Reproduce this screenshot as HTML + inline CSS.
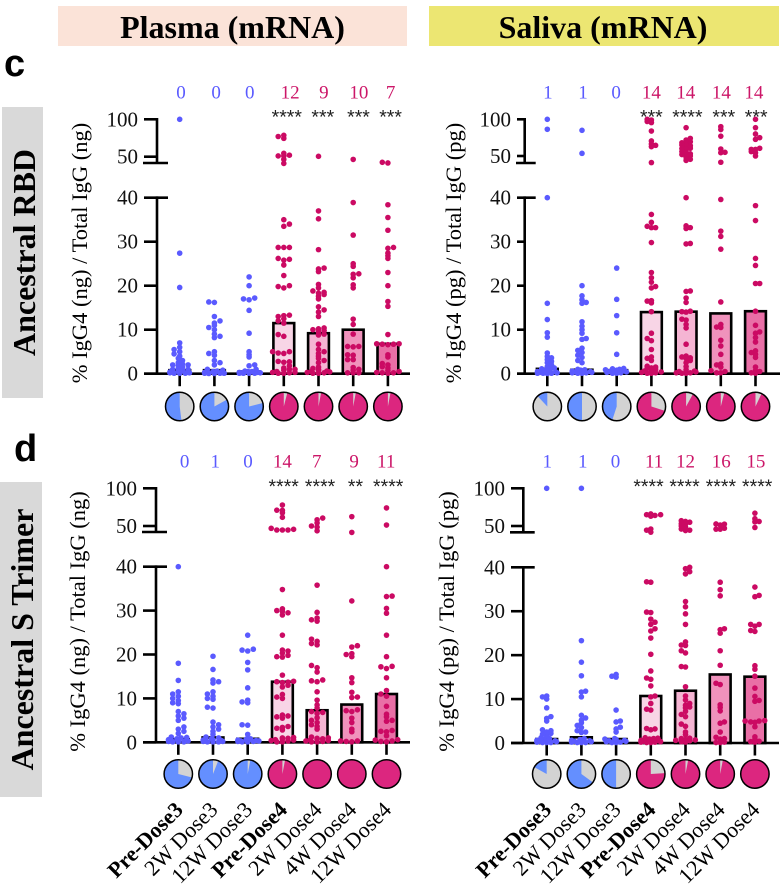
<!DOCTYPE html>
<html lang="en">
<head>
<meta charset="utf-8">
<title>IgG4 proportion chart</title>
<style>
html,body{margin:0;padding:0;background:#fff;width:783px;height:890px;overflow:hidden}
svg{display:block;font-family:"Liberation Serif",serif}
</style>
</head>
<body>
<svg id="chart" width="783" height="890" viewBox="0 0 783 890" xmlns="http://www.w3.org/2000/svg">
  <rect x="58" y="6" width="349" height="40" fill="#fbe3d8"/>
  <text x="232.500" y="38" font-size="32" font-weight="bold" text-anchor="middle">Plasma (mRNA)</text>
  <rect x="429" y="6" width="350" height="40" fill="#ece672"/>
  <text x="603" y="38" font-size="32" font-weight="bold" text-anchor="middle">Saliva (mRNA)</text>
  <text x="4" y="76" font-size="38" font-weight="bold" style="font-family:'Liberation Sans',sans-serif">c</text>
  <text x="14" y="461" font-size="38" font-weight="bold" style="font-family:'Liberation Sans',sans-serif">d</text>
  <rect x="2" y="107" width="41" height="291" fill="#d9d9d9"/>
  <text transform="translate(35 252.500) rotate(-90)" font-size="32" font-weight="bold" text-anchor="middle">Ancestral RBD</text>
  <rect x="0" y="482" width="42" height="315" fill="#d9d9d9"/>
  <text transform="translate(33 639.500) rotate(-90)" font-size="32" font-weight="bold" text-anchor="middle">Ancestral S Trimer</text>
</svg>
<script>
// ---------- shared labels ----------
const categories = ["Pre-Dose3","2W Dose3","12W Dose3","Pre-Dose4","2W Dose4","4W Dose4","12W Dose4"];
const boldCategories = ["Pre-Dose3","Pre-Dose4"];
const lowerTicks = [0,10,20,30,40];
const upperTicks = [50,100];

// ---------- Plasma / RBD ----------
const plasmaRbdCounts = [0,0,0,12,9,10,7];
const plasmaRbdStars = ["","","","****","***","***","***"];
const plasmaRbdMeans = [0.8,0.8,0.5,11.5,9.2,10,6.8];
const plasmaRbdPies = [52,83,79,96,97,97,97];
const plasmaRbdPoints = [
 [100,27.4,19.6,7,6,5.5,5,4.5,4,3.5,3,2.5,2.2,2,2,1.8,1.5,1.2,1,1,0.8,0.6,0.5,0.4,0.3,0.3,0.2,0.2,0.1,0.1,0.1],
 [16.3,16.2,13,12,11.5,11,10.5,10,9,8.5,8.2,5,4.6,4.2,3,2.5,2,1,0.8,0.6,0.5,0.4,0.3,0.2,0.2,0.1,0.1,0.1,0.05,0.05],
 [22,20,17.2,17,16.8,14.4,9.2,5,4.3,3.8,2,1.8,1,0.6,0.5,0.5,0.4,0.3,0.3,0.2,0.2,0.1,0.1,0.1,0.1],
 [78.6,77,74.5,54.5,52,51,51,46.4,41,35,34,33.5,28.7,28.7,28.7,26.2,26,25.8,24.7,22.3,20,19.8,19.5,13.3,13.2,13,12.5,12,11.5,8.9,8.5,5,5,4.7,4.6,2.8,2.7,2.6,1.8,1.3,1,1,0.8,0.5,0.3,0.3,0.2,0.1,0.1],
 [50.5,37,35.2,28.2,24,23.8,23.2,20.3,19.5,18.8,18.5,18.3,18,17.6,17,15.2,14.5,14,13,10.4,10.2,10,9.8,9.5,9,8.8,6.7,5.5,5,4.6,4,3.5,3,2.5,1.5,1.2,1,0.8,0.6,0.5,0.4,0.3,0.2,0.1,0.1],
 [46.4,38.9,31.5,25,24.4,22.7,22.6,21.8,20.2,19.5,12.4,11.2,9,6.2,6.2,6.1,4.3,4.2,3.2,3.2,1.4,1,0.8,0.2,0.2,0.2],
 [42.5,41.6,38.4,35.5,32.6,28.7,28.5,27.4,26.8,26.2,23,20,16.4,15.3,8.9,6.8,6.8,6.7,6.7,6.6,4.3,3.8,2.3,2,1.6,1.3,0.7,0.5,0.3,0.2,0.2,0.1]
];

// ---------- Saliva / RBD ----------
const salivaRbdCounts = [1,1,0,14,14,14,14];
const salivaRbdStars = ["","","","***","****","***","***"];
const salivaRbdMeans = [1.1,0.9,0.8,14,14.1,13.7,14.2];
const salivaRbdPies = [12,50,45,70,92,96,93];
const salivaRbdPoints = [
 [100,86.4,40,16,12.3,9.3,8.3,4.7,3.9,3.6,3.2,2.8,2.5,2,1.6,1.3,1.1,0.9,0.8,0.6,0.5,0.4,0.3,0.2,0.1,0.1,0.1,0.05],
 [85,53.6,20,17.7,16.8,16.2,16,11.8,10.8,10,9.2,8,7.8,5.8,5.3,4.8,4.2,3.7,3,2.5,1,0.9,0.8,0.7,0.6,0.5,0.4,0.3,0.2,0.2,0.1,0.1],
 [24,16.9,13.2,9.3,4.4,1.2,1.1,1,0.9,0.8,0.7,0.6,0.5,0.4,0.3,0.2,0.1,0.1],
 [100,99,97,95.5,84,70.5,66.4,64.5,62.7,41,36.2,34.4,33.5,33.2,33.2,29.8,23,21.8,20.8,19.8,19.5,16.6,16.5,16.1,14.1,9.2,8,7.5,5.5,3.8,3.5,3,1.7,1.5,1.3,1.2,1,0.8,0.6,0.4,0.3,0.2,0.1,0.1],
 [88.6,74,71.8,69.5,68,67,65,64,62.7,60.5,60,58,56,55,53,52,51.5,50,48,45.5,44,40,33.6,33.2,33,29.6,29.5,18.8,18.7,17.2,16.2,14.2,14.1,14,12.4,12.2,11.2,10.4,6.7,4,3.8,3.6,3.5,3,2.5,1.6,0.9,0.6,0.5,0.4,0.2,0.2,0.1,0.1],
 [90,86,77,59.5,55,54.5,41.5,39.6,32.4,31.2,28.3,16.3,11.2,10.6,10.5,7.6,6.3,4.4,2.2,2,1.5,0.7,0.5,0.2,0.2],
 [100,88.6,80,75,72.7,60.5,59,59,56,54.5,50,38.2,34.8,26.2,24.6,20.5,20.5,14.2,11,9.5,9.2,8.2,7.2,5.2,4.8,4.4,3.7,1.5,0.7,0.5,0.2,0.1]
];

// ---------- Plasma / S Trimer ----------
const plasmaTrimerCounts = [0,1,0,14,7,9,11];
const plasmaTrimerStars = ["","","","****","****","**","****"];
const plasmaTrimerMeans = [0.7,1.1,0.8,13.8,7.3,8.6,11];
const plasmaTrimerPies = [71,94,97,97,100,100,100];
const plasmaTrimerPoints = [
 [40,18,14.1,11.5,11,10.5,10,9.5,9,8.8,7,6.5,6,5.5,5,3.5,3,2.5,2,1.2,1.1,1,0.8,0.7,0.6,0.5,0.4,0.3,0.2,0.1,0.1,0.1],
 [19.6,16.6,14.2,13.8,13.5,11.5,11,10.5,10,9.8,8,7.8,4.6,4,3.5,3,2.5,1.8,1.2,1,0.8,0.6,0.5,0.4,0.3,0.2,0.2,0.1,0.1,0.1],
 [24.4,21.2,21,20.8,18.2,16.5,12.4,9.6,9.2,9,4,3.9,1.8,0.8,0.7,0.6,0.5,0.4,0.3,0.3,0.2,0.2,0.1,0.1],
 [77.8,71,70.7,67.6,61.5,46.9,45.6,44.7,44.7,44.7,34.8,30.4,30,29.8,29.5,29,24.4,21,20.8,20.3,19.8,19.5,19.4,15.3,13.9,13.8,13.7,13.6,13,12.6,10.9,10.3,10,6.2,6,5.8,5.5,3.6,3.4,3.2,2.8,1.1,1,0.9,0.8,0.6,0.5,0.4,0.3,0.1,0.1],
 [60.5,58.3,54,50,48.5,43.6,35.8,29.6,28.3,27.9,27.6,23.5,23,22.5,22.2,17.5,17,16,14.2,14,13.8,11.5,9.6,8.5,7.8,7,6.8,6.6,5.6,5,4.5,4,3.6,3,1.2,1,0.9,0.8,0.7,0.5,0.4,0.3,0.2,0.1,0.1],
 [62.4,41.5,32.2,22,21.7,20.2,20,19.5,14.7,13.6,11.4,10.3,10.2,7.4,7.2,7,5.5,4.5,3,2.4,0.3,0.3,0.2,0.1],
 [74,51.3,40,33.3,33.2,30.5,29.4,24.4,19.5,17.3,17.2,16.8,14.7,11.8,11,10.5,8.2,6.4,5.8,5,4.8,2.7,2.5,2.4,1.5,0.6,0.5,0.3,0.2,0.1]
];

// ---------- Saliva / S Trimer ----------
const salivaTrimerCounts = [1,1,0,11,12,16,15];
const salivaTrimerStars = ["","","","****","****","****","****"];
const salivaTrimerMeans = [0.9,1.3,0.9,10.7,11.9,15.6,15.1];
const salivaTrimerPies = [17,65,50,76,97,97,100];
const salivaTrimerPoints = [
 [100,10.7,10.5,10,8,6,5.6,5,3,2.8,2.5,2.2,2,1.7,1.2,1,0.9,0.8,0.6,0.5,0.4,0.3,0.2,0.1,0.1,0.1],
 [100,23.3,18.4,15.3,11.8,11.6,10.5,6.3,5.7,5.2,4.6,4,3.5,2.8,2.5,2.4,1,0.8,0.7,0.6,0.5,0.4,0.3,0.2,0.1,0.1,0.1],
 [15.6,15.2,15,7.5,5,4.8,3.6,3.2,2.5,1,0.9,0.8,0.6,0.5,0.4,0.3,0.2,0.1,0.1],
 [66,65,65,64,63,46,44.5,41.8,36.7,36.6,29.8,29.7,28.2,27.5,27,26,25.5,23.9,20.2,16.4,14.8,14.5,13,10.7,10.5,9,7.7,7.5,3.3,3.2,3,1.2,1.1,1,0.9,0.8,0.6,0.5,0.4,0.3,0.2,0.2,0.1,0.1],
 [57,56,55,53,52.5,50,48.5,46,44.5,44,40,39.7,39,38.5,32.2,31,29.4,27,23,22.3,22.2,21,20.5,17.4,17.3,12.8,10.7,9.8,9,8.6,8.2,8,7.2,6.5,6,4.3,3.8,2.5,1.9,1.1,1,0.8,0.7,0.6,0.5,0.3,0.2],
 [52.7,52.5,51.3,47,45.8,45.8,36.6,34.9,33.5,26,25.8,25,21,17.7,13.6,13.3,8.7,8.1,7.3,4.8,4.5,2.5,1.3,1,0.9,0.2,0.1,0.1],
 [67,59.7,56,55.5,48,35.5,33.6,33.3,27,27,26.6,25.6,25.4,17.6,16.8,15.2,12.5,10.6,9.7,9.5,5.1,5,5,4.8,4.7,3.7,1.4,0.8,0.4,0.3,0.2]
];

// ---------- panel layout ----------
const panels = [
 {id:"plasma-rbd", title:"% IgG4 (ng) / Total IgG (ng)", counts:plasmaRbdCounts, stars:plasmaRbdStars, means:plasmaRbdMeans, pies:plasmaRbdPies, points:plasmaRbdPoints,
  axisX:157, firstCat:179.7, left:144, breakRight:168, right:410, y0:373.7, y40:197.7, y50:156.7, y100:119.3, yBreak:163, titleX:87, titleY:253, countY:98.7, starY:123.5, pieY:406.5, showCats:false,
  countShift:[1.3,1.7,0.7,6.3,5.4,5.7,2.7], starShift:[0,0,0,3,4.3,5.3,2.7]},
 {id:"saliva-rbd", title:"% IgG4 (pg) / Total IgG (pg)", counts:salivaRbdCounts, stars:salivaRbdStars, means:salivaRbdMeans, pies:salivaRbdPies, points:salivaRbdPoints,
  axisX:524.7, firstCat:547.3, left:517, breakRight:535.7, right:780, y0:373.7, y40:197.7, y50:156, y100:119.3, yBreak:163, titleX:461, titleY:253, countY:98.7, starY:123.5, pieY:406.5, showCats:false,
  countShift:[0.6,1,-0.6,0,-0.3,0.6,-1.6], starShift:[0,0,0,0,1.3,3,0.7]},
 {id:"plasma-trimer", title:"% IgG4 (ng) / Total IgG (ng)", counts:plasmaTrimerCounts, stars:plasmaTrimerStars, means:plasmaTrimerMeans, pies:plasmaTrimerPies, points:plasmaTrimerPoints,
  axisX:156, firstCat:178.3, left:143, breakRight:167, right:410, y0:742.3, y40:566.7, y50:526, y100:488.3, yBreak:532, titleX:85, titleY:621.5, countY:467.7, starY:492.8, pieY:774, showCats:true,
  countShift:[6.3,2.3,0.3,0,-0.3,2.3,-0.3], starShift:[0,0,0,1.3,3,3.7,1.7]},
 {id:"saliva-trimer", title:"% IgG4 (pg) / Total IgG (pg)", counts:salivaTrimerCounts, stars:salivaTrimerStars, means:salivaTrimerMeans, pies:salivaTrimerPies, points:salivaTrimerPoints,
  axisX:523.3, firstCat:546.7, left:511, breakRight:534.7, right:779, y0:743, y40:567.3, y50:526, y100:488.3, yBreak:532.3, titleX:454, titleY:621.5, countY:467.7, starY:492.8, pieY:774, showCats:true,
  countShift:[0.6,1.3,-0.6,3.3,0,1,1], starShift:[0,0,0,-2.3,-1,0.7,2.3]}
];

const CAT_STEP = 34.7;
const barFills = ["#ffffff","#ffffff","#ffffff","#f8d5e6","#f5b5d3","#f092bc","#e96fa6"];
const BLUE_DOT = "#5a5aff", PINK_DOT = "#cb0a63";
const BLUE_PIE = "#648fff", PINK_PIE = "#dc267f", GRAY_PIE = "#d3d3d3";
const NS = "http://www.w3.org/2000/svg";
const root = document.getElementById("chart");

function make(tag, attrs, parent) {
  const el = document.createElementNS(NS, tag);
  for (const k in attrs) el.setAttribute(k, attrs[k]);
  parent.appendChild(el);
  return el;
}

function yScale(p, v) {
  if (v > 40.5) {
    return p.y50 - (v - 50) * (p.y50 - p.y100) / 50;
  }
  return p.y0 - v * (p.y0 - p.y40) / 40;
}
function xScale(p, i) { return p.firstCat + i * CAT_STEP; }

// Column-style swarm: only points at nearly the same height get pushed sideways.
function swarm(p, i, values) {
  const placed = [];
  const sorted = values.slice().sort((a, b) => a - b);
  const cx = xScale(p, i);
  const step = 1.4, maxOff = 11.2, minDx = 4.2, minDy = 2.2;
  sorted.forEach((v, n) => {
    const y = yScale(p, v);
    const sign = n % 2 === 0 ? 1 : -1;
    let chosen = null;
    for (let k = 0; k * step <= maxOff && chosen === null; k++) {
      const options = k === 0 ? [0] : [sign * k * step, -sign * k * step];
      for (const off of options) {
        const hit = placed.some(q => Math.abs(q.x - (cx + off)) < minDx && Math.abs(q.y - y) < minDy);
        if (!hit) { chosen = off; break; }
      }
    }
    if (chosen === null) chosen = sign * (n % 8) * step;
    placed.push({x: cx + chosen, y: y});
  });
  return placed;
}

function piePath(cx, cy, r, pct) {
  const start = (1 - pct / 100) * 2 * Math.PI;
  const sx = cx + r * Math.sin(start), sy = cy - r * Math.cos(start);
  const large = pct > 50 ? 1 : 0;
  return "M" + cx + " " + cy + "L" + sx.toFixed(2) + " " + sy.toFixed(2) + "A" + r + " " + r + " 0 " + large + " 1 " + cx + " " + (cy - r) + "Z";
}

panels.forEach(p => {
  const g = make("g", {}, root);
  
  

  const title = make("text", {transform:"translate(" + p.titleX + " " + p.titleY + ") rotate(-90)", "font-size":"22.5", "text-anchor":"middle"}, g);
  
  
  title.textContent = p.title;

  // bars
  p.means.forEach((m, i) => {
    const cx = xScale(p, i), top = yScale(p, m);
    const bar = make("rect", {x:cx - 10.4, y:top, width:20.8, height:Math.max(p.y0 - top, 0), fill:barFills[i], stroke:"#000", "stroke-width":"2.6"}, g);
    
    
  });

  // axes
  const axisStyle = {stroke:"#000", "stroke-width":"2.6", fill:"none"};
  const upperAxis = make("path", Object.assign({d:"M" + p.axisX + " " + (p.y100 - 1.3) + "V" + p.yBreak}, axisStyle), g);
  
  
  const lowerAxis = make("path", Object.assign({d:"M" + p.axisX + " " + (p.y40 - 1.3) + "V" + p.y0}, axisStyle), g);
  
  
  const xAxis = make("path", Object.assign({d:"M" + p.left + " " + p.y0 + "H" + p.right}, axisStyle), g);
  
  
  const breakTick = make("path", Object.assign({d:"M" + (p.left - 1) + " " + p.yBreak + "H" + p.breakRight}, axisStyle), g);
  
  

  lowerTicks.concat(upperTicks).forEach(t => {
    const y = t === 40 ? p.y40 : t === 50 ? p.y50 : t === 100 ? p.y100 : yScale(p, t);
    const tick = make("path", Object.assign({d:"M" + p.left + " " + y + "H" + (t === 40 ? p.breakRight : p.axisX)}, axisStyle), g);
    
    
    const label = make("text", {x:p.left - 6, y:y + 7, "font-size":"21", "text-anchor":"end", fill:"#111"}, g);
    
    
    label.textContent = t;
  });

  // x ticks, pies, counts, stars, category labels
  categories.forEach((c, i) => {
    const cx = xScale(p, i);
    const tick = make("path", Object.assign({d:"M" + cx + " " + p.y0 + "V" + (p.y0 + 12.5)}, axisStyle), g);
    
    

    const pie = make("g", {}, g);
    
    
    make("circle", {cx:cx, cy:p.pieY, r:14.2, fill:GRAY_PIE}, pie);
    const colour = i < 3 ? BLUE_PIE : PINK_PIE;
    if (p.pies[i] >= 100) {
      make("circle", {cx:cx, cy:p.pieY, r:14.2, fill:colour}, pie);
    } else {
      make("path", {d:piePath(cx, p.pieY, 14.2, p.pies[i]), fill:colour}, pie);
    }
    make("circle", {cx:cx, cy:p.pieY, r:14.2, fill:"none", stroke:"#000", "stroke-width":"1.5"}, pie);

    const count = make("text", {x:cx + p.countShift[i], y:p.countY, "font-size":"19", "text-anchor":"middle", fill:i < 3 ? BLUE_DOT : "#cc1668"}, g);
    
    
    count.textContent = p.counts[i];

    if (p.stars[i]) {
      const star = make("text", {x:cx + p.starShift[i], y:p.starY, "font-size":"19.5", "text-anchor":"middle", fill:"#222", style:"font-family:'Liberation Sans',sans-serif"}, g);
      
      
      star.textContent = p.stars[i];
    }

    if (p.showCats) {
      const ax = cx + 6, ay = p.pieY + 37;
      const cat = make("text", {transform:"translate(" + ax + " " + ay + ") rotate(-45)", "font-size":"22", "text-anchor":"end"}, g);
      if (boldCategories.includes(c)) cat.setAttribute("font-weight", "bold");
      
      
      cat.textContent = c;
    }
  });

  // points
  p.points.forEach((vals, i) => {
    const grp = make("g", {fill:i < 3 ? BLUE_DOT : PINK_DOT}, g);
    
    
    swarm(p, i, vals).forEach(q => {
      make("circle", {cx:q.x.toFixed(2), cy:q.y.toFixed(2), r:2.8}, grp);
    });
  });
});
</script>
</body>
</html>
